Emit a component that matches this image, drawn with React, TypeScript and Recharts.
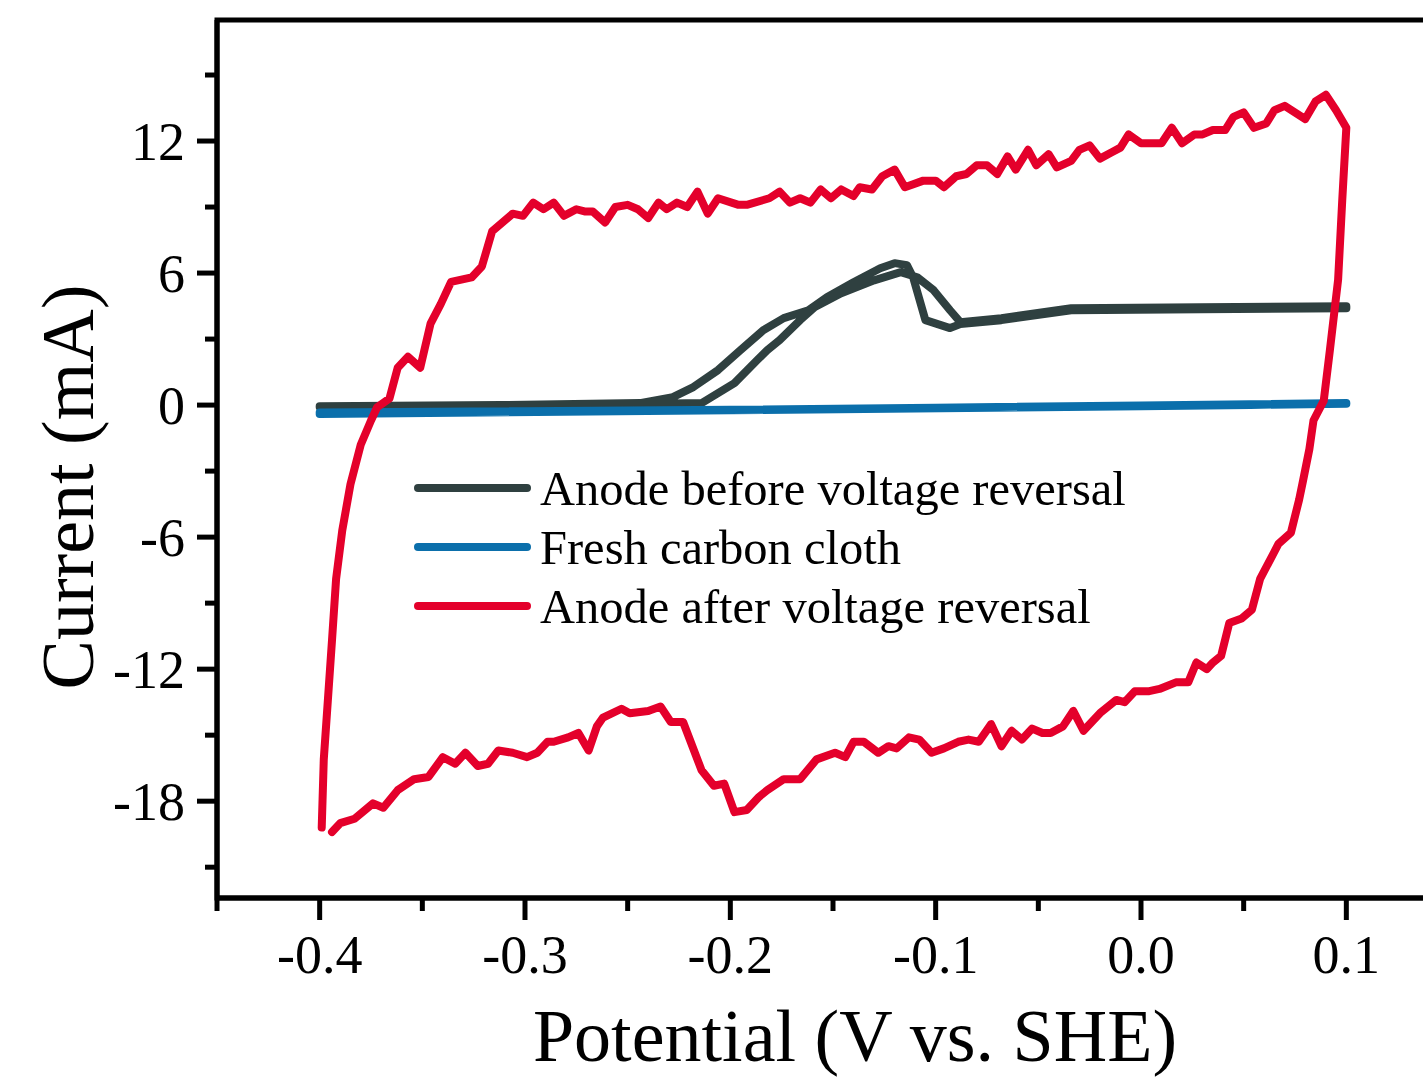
import React from "react";
import { LineChart, Line, XAxis, YAxis, Legend, Label, ReferenceArea } from "recharts";

const FONT = '"Liberation Serif", "Times New Roman", Times, serif';

// Potential (V vs. SHE), current (mA) pairs, in scan order
const anodeBefore: [number, number][] = [
  [-0.4, -0.09], [-0.312, -0.05], [-0.244, 0.05], [-0.214, 0.09], [-0.198, 1.0],
  [-0.187, 2.04], [-0.182, 2.5], [-0.176, 2.95], [-0.166, 3.86], [-0.159, 4.45],
  [-0.146, 5.08], [-0.13, 5.67], [-0.117, 6.04], [-0.109, 5.81], [-0.101, 5.22],
  [-0.093, 4.31], [-0.088, 3.77], [-0.068, 3.95], [-0.034, 4.4], [0.029, 4.45],
  [0.1, 4.49],
  [0.1, 4.4], [0.029, 4.36], [-0.034, 4.31], [-0.068, 3.86], [-0.088, 3.68],
  [-0.093, 3.5], [-0.105, 3.86], [-0.111, 5.81], [-0.114, 6.36], [-0.12, 6.45],
  [-0.127, 6.22], [-0.14, 5.58], [-0.153, 4.9], [-0.162, 4.31], [-0.174, 3.95],
  [-0.184, 3.4], [-0.195, 2.5], [-0.206, 1.59], [-0.218, 0.82], [-0.228, 0.36],
  [-0.244, 0.09], [-0.312, 0.0], [-0.4, -0.05],
];

const freshCloth: [number, number][] = [
  [-0.4, -0.34], [-0.3, -0.28], [-0.2, -0.21], [-0.1, -0.12], [0.0, -0.02], [0.1, 0.09],
  [0.1, 0.06], [0.0, -0.05], [-0.2, -0.24], [-0.4, -0.4],
];

const anodeAfter: [number, number][] = [
  [-0.399, -19.2], [-0.398, -16.1], [-0.396, -13.4], [-0.394, -10.7], [-0.392, -7.9],
  [-0.389, -5.7], [-0.385, -3.6], [-0.38, -1.8], [-0.375, -0.7], [-0.372, -0.1],
  [-0.366, 0.3], [-0.362, 1.7], [-0.357, 2.2], [-0.351, 1.7], [-0.346, 3.7],
  [-0.341, 4.6], [-0.336, 5.6], [-0.331, 5.7], [-0.326, 5.8], [-0.321, 6.3],
  [-0.316, 7.9], [-0.306, 8.7], [-0.301, 8.6], [-0.296, 9.2], [-0.291, 8.9],
  [-0.286, 9.2], [-0.281, 8.6], [-0.275, 8.9], [-0.271, 8.8], [-0.267, 8.8],
  [-0.261, 8.3], [-0.256, 9.0], [-0.25, 9.1], [-0.245, 8.9], [-0.24, 8.5],
  [-0.235, 9.2], [-0.231, 8.9], [-0.226, 9.2], [-0.221, 9.0], [-0.216, 9.7],
  [-0.211, 8.7], [-0.206, 9.4], [-0.196, 9.1], [-0.192, 9.1], [-0.181, 9.4],
  [-0.176, 9.7], [-0.171, 9.2], [-0.166, 9.4], [-0.161, 9.2], [-0.156, 9.8],
  [-0.151, 9.4], [-0.146, 9.8], [-0.14, 9.5], [-0.137, 9.9], [-0.131, 9.8],
  [-0.126, 10.4], [-0.12, 10.7], [-0.115, 9.9], [-0.106, 10.2], [-0.1, 10.2],
  [-0.096, 9.9], [-0.09, 10.4], [-0.085, 10.5], [-0.08, 10.9], [-0.075, 10.9],
  [-0.07, 10.5], [-0.065, 11.3], [-0.061, 10.7], [-0.055, 11.6], [-0.051, 10.9],
  [-0.045, 11.4], [-0.041, 10.8], [-0.034, 11.1], [-0.03, 11.6], [-0.025, 11.8],
  [-0.02, 11.2], [-0.014, 11.5], [-0.01, 11.7], [-0.006, 12.3], [0.0, 11.9],
  [0.006, 11.9], [0.01, 11.9], [0.015, 12.6], [0.02, 11.9], [0.026, 12.3],
  [0.03, 12.3], [0.035, 12.5], [0.041, 12.5], [0.045, 13.1], [0.05, 13.3],
  [0.055, 12.6], [0.061, 12.8], [0.065, 13.4], [0.07, 13.6], [0.08, 13.0],
  [0.085, 13.8], [0.09, 14.1], [0.095, 13.4], [0.1, 12.6],
  [0.098, 9.3], [0.096, 5.7], [0.092, 2.5], [0.089, 0.2], [0.084, -0.7],
  [0.082, -2.0], [0.079, -3.4], [0.077, -4.3], [0.073, -5.8], [0.067, -6.3],
  [0.058, -7.9], [0.054, -9.3], [0.049, -9.7], [0.043, -9.9], [0.039, -11.4],
  [0.035, -11.7], [0.032, -12.0], [0.027, -11.7], [0.023, -12.6], [0.017, -12.6],
  [0.009, -12.9], [0.004, -13.0], [-0.003, -13.0], [-0.008, -13.5], [-0.012, -13.4],
  [-0.02, -14.0], [-0.028, -14.8], [-0.033, -13.9], [-0.038, -14.6], [-0.044, -14.9],
  [-0.048, -14.9], [-0.053, -14.7], [-0.058, -15.2], [-0.063, -14.8], [-0.068, -15.5],
  [-0.073, -14.5], [-0.079, -15.3], [-0.084, -15.2], [-0.089, -15.3], [-0.096, -15.6],
  [-0.102, -15.8], [-0.108, -15.2], [-0.113, -15.1], [-0.119, -15.6], [-0.123, -15.5],
  [-0.128, -15.8], [-0.135, -15.3], [-0.14, -15.3], [-0.144, -16.0], [-0.149, -15.8],
  [-0.158, -16.1], [-0.166, -17.0], [-0.174, -17.0], [-0.182, -17.5], [-0.186, -17.8],
  [-0.192, -18.4], [-0.198, -18.5], [-0.203, -17.2], [-0.208, -17.3], [-0.214, -16.6],
  [-0.223, -14.4], [-0.229, -14.4], [-0.234, -13.7], [-0.24, -13.9], [-0.249, -14.0],
  [-0.253, -13.8], [-0.262, -14.2], [-0.265, -14.6], [-0.269, -15.7], [-0.274, -14.9],
  [-0.279, -15.1], [-0.286, -15.3], [-0.289, -15.3], [-0.294, -15.8], [-0.299, -16.0],
  [-0.306, -15.8], [-0.313, -15.7], [-0.318, -16.3], [-0.323, -16.4], [-0.329, -15.8],
  [-0.334, -16.3], [-0.34, -16.0], [-0.347, -16.9], [-0.354, -17.0], [-0.362, -17.5],
  [-0.369, -18.3], [-0.374, -18.1], [-0.383, -18.8], [-0.39, -19.0], [-0.394, -19.4],
];

const seriesNames = [
  "Anode before voltage reversal",
  "Fresh carbon cloth",
  "Anode after voltage reversal",
];
const seriesColors = ["#2f4040", "#0b6fab", "#e4002b"];

const xMajor = [-0.4, -0.3, -0.2, -0.1, 0, 0.1];
const xMinor = [-0.45, -0.35, -0.25, -0.15, -0.05, 0.05, 0.15];
const yMajor = [-18, -12, -6, 0, 6, 12];
const yMinor = [-21, -15, -9, -3, 3, 9, 15];

const X_DOMAIN: [number, number] = [-0.45, 0.15];
const Y_DOMAIN: [number, number] = [-22.4, 17.5];

const toPoints = (rows: [number, number][]) => rows.map(([x, y]) => ({ x, y }));

const isMajor = (list: number[], v: number) => list.some((m) => Math.abs(m - v) < 1e-9);

const XTick = (props: any) => {
  const { x, y, payload } = props;
  const major = isMajor(xMajor, payload.value);
  return (
    <g>
      <line x1={x} y1={y} x2={x} y2={y + (major ? 22 : 13)} stroke="#000" strokeWidth={5} />
      {major && (
        <text x={x} y={y + 75} textAnchor="middle" fontSize={54} fontFamily={FONT} fill="#000">
          {Number(payload.value).toFixed(1)}
        </text>
      )}
    </g>
  );
};

const YTick = (props: any) => {
  const { x, y, payload } = props;
  const major = isMajor(yMajor, payload.value);
  return (
    <g>
      <line x1={x} y1={y} x2={x - (major ? 20 : 12)} y2={y} stroke="#000" strokeWidth={5} />
      {major && (
        <text x={x - 32} y={y + 19} textAnchor="end" fontSize={54} fontFamily={FONT} fill="#000">
          {payload.value}
        </text>
      )}
    </g>
  );
};

// legend rows keep the series order, not alphabetical
const LegendBox = (props: any) => {
  const items = [...(props.payload || [])].sort(
    (a: any, b: any) => seriesNames.indexOf(a.value) - seriesNames.indexOf(b.value)
  );
  return (
    <svg width={760} height={180} style={{ display: "block", overflow: "visible" }}>
      {items.map((it: any, i: number) => (
        <g key={it.value}>
          <line
            x1={13}
            x2={122}
            y1={33 + i * 59}
            y2={33 + i * 59}
            stroke={it.color}
            strokeWidth={8}
            strokeLinecap="round"
          />
          <text x={135} y={50 + i * 59} fontSize={48.5} fontFamily={FONT} fill="#000">
            {it.value}
          </text>
        </g>
      ))}
    </svg>
  );
};

const series = [anodeBefore, freshCloth, anodeAfter];

export default function App() {
  return (
    <div
      style={{
        position: "absolute",
        left: 0,
        top: 0,
        width: 1423,
        height: 1083,
        overflow: "hidden",
        background: "#fff",
      }}
    >
      <LineChart width={1455} height={1083} margin={{ top: 20, right: 6, bottom: 85, left: 97 }}>
        <ReferenceArea
          x1={X_DOMAIN[0]}
          x2={X_DOMAIN[1]}
          y1={Y_DOMAIN[0]}
          y2={Y_DOMAIN[1]}
          fill="none"
          stroke="#000"
          strokeWidth={5}
        />
        <XAxis
          type="number"
          dataKey="x"
          domain={X_DOMAIN}
          ticks={[...xMinor, ...xMajor].sort((a, b) => a - b)}
          allowDataOverflow
          height={100}
          tickSize={0}
          tickMargin={0}
          tickLine={false}
          axisLine={{ stroke: "#000", strokeWidth: 5 }}
          tick={<XTick />}
          interval={0}
        >
          <Label
            content={(p: any) => (
              <text
                x={p.viewBox.x + 638}
                y={p.viewBox.y + 163}
                textAnchor="middle"
                fontSize={74}
                fontFamily={FONT}
                fill="#000"
              >
                Potential (V vs. SHE)
              </text>
            )}
          />
        </XAxis>
        <YAxis
          type="number"
          dataKey="y"
          domain={Y_DOMAIN}
          ticks={[...yMinor, ...yMajor].sort((a, b) => a - b)}
          allowDataOverflow
          width={120}
          tickSize={0}
          tickMargin={0}
          tickLine={false}
          axisLine={{ stroke: "#000", strokeWidth: 5 }}
          tick={<YTick />}
          interval={0}
        >
          <Label
            content={() => (
              <text
                x={93}
                y={487}
                transform="rotate(-90, 93, 487)"
                textAnchor="middle"
                fontSize={74}
                fontFamily={FONT}
                fill="#000"
              >
                Current (mA)
              </text>
            )}
          />
        </YAxis>
        <Legend
          layout="vertical"
          align="center"
          verticalAlign="middle"
          content={<LegendBox />}
          wrapperStyle={{ left: 405, top: 455, width: 760, height: 180 }}
        />
        {series.map((rows, i) => (
          <Line
            key={seriesNames[i]}
            name={seriesNames[i]}
            data={toPoints(rows)}
            dataKey="y"
            type="linear"
            stroke={seriesColors[i]}
            strokeWidth={8}
            strokeLinejoin="round"
            strokeLinecap="round"
            dot={false}
            activeDot={false}
            isAnimationActive={false}
          />
        ))}
      </LineChart>
    </div>
  );
}
